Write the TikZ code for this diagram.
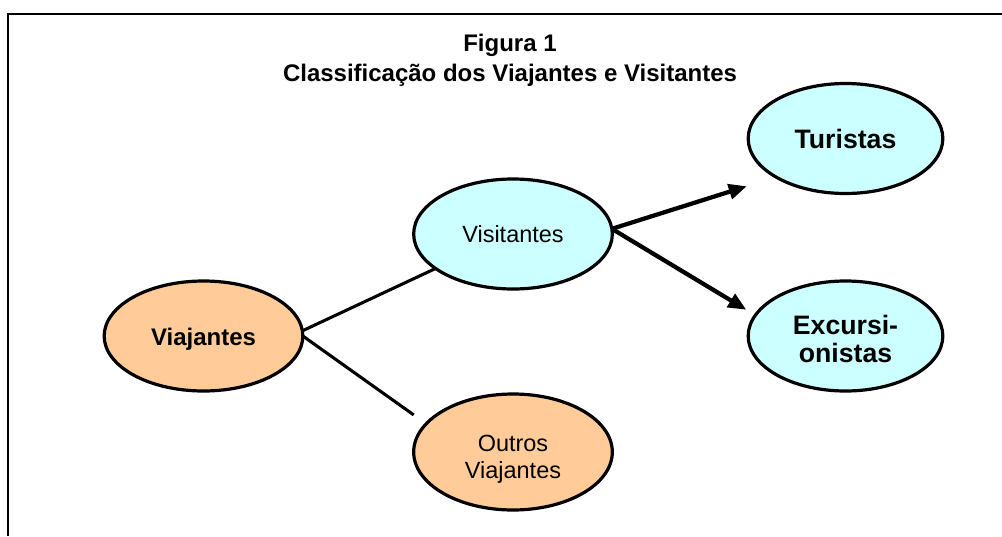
\documentclass[tikz,border=0pt]{standalone}
\usepackage{fontspec}
\setmainfont{Liberation Sans}
\usetikzlibrary{shapes.geometric, arrows.meta}

\definecolor{pessego}{HTML}{FFCC99}
\definecolor{ciano}{HTML}{CCFFFF}

\begin{document}
\begin{tikzpicture}[
      x=0.75pt, y=-0.75pt,
      classe/.style={ellipse, draw=black, line width=2.4pt, inner sep=0pt, outer sep=0pt,
        minimum width=149pt, minimum height=82.5pt, align=center},
      viajante/.style={classe, fill=pessego},
      visitante/.style={classe, fill=ciano},
      ligacao/.style={line width=2.3pt},
      seta/.style={line width=3.2pt, -{Triangle[length=13.5pt, width=11.25pt]}}
  ]

  \useasboundingbox (0,0) rectangle (1002,536);
  \draw[line width=1.6pt] (8,536) -- (8,14) -- (1004,14); % moldura

  \node [inner sep=0pt, align=center, font=\fontsize{18}{22.5}\selectfont\bfseries] (titulo)
    at (510,60.5) {Figura 1\\Classificação dos Viajantes e Visitantes};

  \node [viajante, font=\fontsize{18}{21}\selectfont\bfseries] (viaj)
    at (203.5,336) {\rule{0pt}{18.3pt}Viajantes};
  \node [visitante, font=\fontsize{17.6}{20.8}\selectfont] (visit) at (513,234) {Visitantes};
  \node [viajante, minimum height=87pt, font=\fontsize{17.6}{20.8}\selectfont] (outros)
    at (513,452) {\rule{0pt}{23.3pt}Outros\\Viajantes};
  \node [visitante, minimum width=146pt, font=\fontsize{20}{23}\selectfont\bfseries] (tur)
    at (845.5,138.5) {Turistas};
  \node [visitante, minimum width=146pt, font=\fontsize{20}{20.5}\selectfont\bfseries] (exc)
    at (845.5,336) {\rule{0pt}{19pt}Excursi-\\onistas};

  \draw [ligacao] (viaj.3) -- (visit.204);
  \draw [ligacao, shorten >=11.5pt] (viaj.east) -- (outros.162);
  \draw [seta, shorten >=23pt] (visit.3) -- (tur.209);
  \draw [seta, shorten >=8pt] (visit.3) -- (exc.167);

\end{tikzpicture}
\end{document}
